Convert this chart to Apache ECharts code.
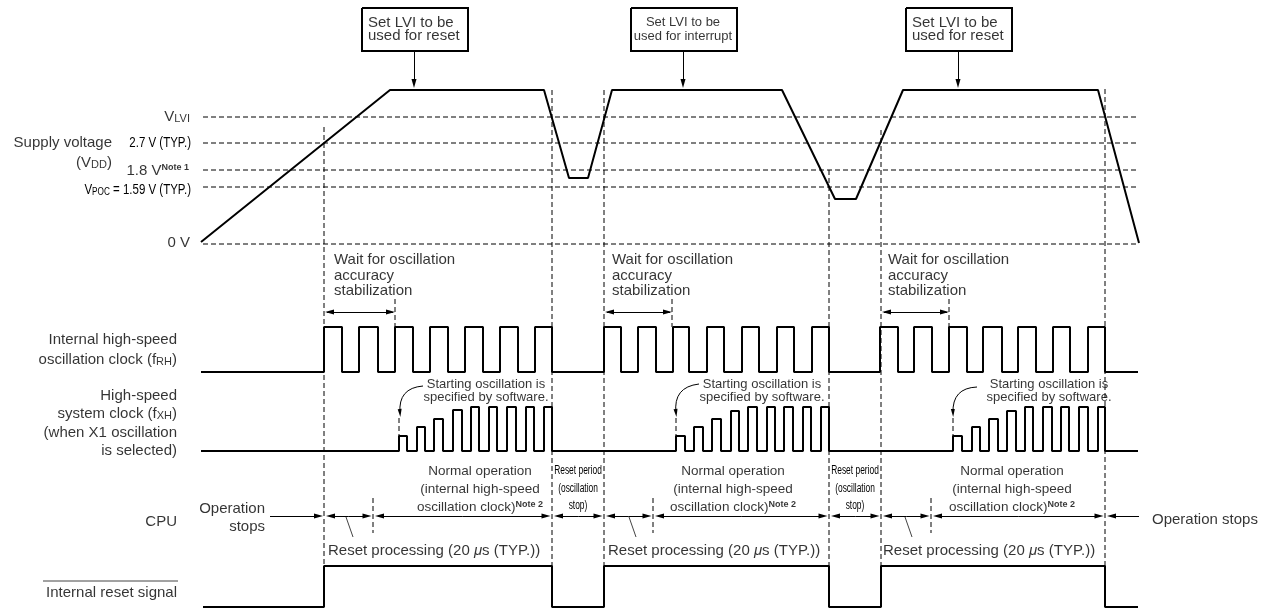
<!DOCTYPE html>
<html>
<head>
<meta charset="utf-8">
<title>LVI reset timing</title>
<script src="https://cdn.jsdelivr.net/npm/echarts@6/dist/echarts.min.js"></script>
<style>
html, body { margin: 0; padding: 0; background: #fff; }
#chart { width: 1272px; height: 610px; }
</style>
</head>
<body>
<div id="chart"></div>
<script>
// supply voltage trace: time (x) and level (y, plotted downwards)
const vddTime = [201, 390, 544, 569, 588, 612, 782, 835, 856, 903, 1098, 1139];
const vddLevel = [242, 90, 90, 178, 178, 90, 90, 199, 199, 90, 90, 243];
// dashed reference levels: VLVI, 2.7 V, 1.8 V, VPOC, 0 V
const refLevels = [117, 143, 170, 187, 244];

// internal high-speed oscillation clock (fRH) edges
const fRhRise = [324, 359, 395, 430, 465, 500, 535, 604, 638, 673, 707, 742, 777, 812, 880, 914, 949, 983, 1018, 1053, 1088];
const fRhFall = [342, 378, 413, 448, 483, 518, 552, 621, 656, 689, 724, 759, 794, 829, 898, 932, 967, 1002, 1036, 1070, 1105];

// high-speed system clock (fXH) edges and pulse tops
const fXhRise = [399, 417, 434, 453, 471, 489, 507, 526, 544, 676, 694, 712, 731, 748, 767, 784, 803, 821, 953, 972, 989, 1007, 1025, 1043, 1061, 1079, 1098];
const fXhFall = [407, 425, 443, 462, 479, 497, 516, 534, 552, 685, 703, 721, 739, 757, 775, 793, 811, 829, 962, 980, 998, 1016, 1033, 1052, 1069, 1088, 1105];
const fXhTop = [436, 427, 419, 410, 407, 407, 407, 407, 407, 436, 427, 419, 411, 407, 407, 407, 407, 407, 436, 427, 419, 411, 407, 407, 407, 407, 407];

// internal reset signal edges
const resetRise = [324, 604, 881];
const resetFall = [552, 829, 1105];

// event markers
const eventTimes = [324, 552, 604, 829, 881, 1105];
const eventTops = [127, 90, 90, 170, 130, 89];
const waitEnd = [395, 672, 949];
const xStart = [399, 676, 953];
const cpuMarks = [324, 373, 552, 604, 653, 829, 881, 931, 1105];
const procMarks = [373, 653, 931];
const boxCenter = [415, 684, 959];
const boxArrow = [414, 683, 958];

// texts
const boxText = [['Set LVI to be', 'used for reset'], ['Set LVI to be', 'used for interrupt'], ['Set LVI to be', 'used for reset']];
const waitText = ['Wait for oscillation', 'accuracy', 'stabilization'];
const startText = ['Starting oscillation is', 'specified by software.'];
const normalText = ['Normal operation', '(internal high-speed', 'oscillation clock){n|Note 2}'];
const resetPeriodText = ['Reset period', '(oscillation', 'stop)'];
const resetProcText = 'Reset processing (20 {i|\u03bc}s (TYP.))';

const SANS = 'Liberation Sans, Arial, sans-serif';

function stepPath(start, end, low, rise, fall, tops) {
  const pts = [[start, low]];
  rise.forEach((r, i) => {
    const hi = Array.isArray(tops) ? tops[i] : tops;
    pts.push([r, low], [r, hi], [fall[i], hi], [fall[i], low]);
  });
  pts.push([end, low]);
  return pts;
}

// arrow line whose tip lands on (x2, y2); the symbol is centred on the end point
function arrow(x1, y1, x2, y2) {
  const len = Math.hypot(x2 - x1, y2 - y1);
  const k = 4.5 / len;
  return { coords: [[x1, y1], [x2 - (x2 - x1) * k, y2 - (y2 - y1) * k]] };
}

const chart = echarts.init(document.getElementById('chart'));

const dashed = [];
refLevels.forEach(y => dashed.push({ coords: [[203, y], [1139, y]] }));
eventTimes.forEach((x, i) => dashed.push({ coords: [[x, eventTops[i]], [x, 566]] }));
waitEnd.forEach(x => dashed.push({ coords: [[x, 299], [x, 327]] }));
xStart.forEach(x => dashed.push({ coords: [[x, 418], [x, 436]] }));
procMarks.forEach(x => dashed.push({ coords: [[x, 498], [x, 533]] }));

const thin = [];
boxCenter.forEach(c => thin.push({ coords: [[c - 53, 8], [c + 53, 8], [c + 53, 51], [c - 53, 51], [c - 53, 8]] }));
thin.push({ coords: [[43, 581], [178, 581]] });

const leaders = [];
[346, 629, 905].forEach(x => leaders.push({ coords: [[x, 517], [x + 7, 537]] }));

const arrows = [];
boxArrow.forEach(x => arrows.push(arrow(x, 51, x, 88)));
eventTimes.filter((x, i) => i % 2 === 0).forEach((x, i) => {
  arrows.push(arrow(waitEnd[i] - 2, 312, x + 1, 312));
  arrows.push(arrow(x + 3, 312, waitEnd[i], 312));
});
// CPU time line
arrows.push(arrow(270, 516, cpuMarks[0] - 1, 516));
for (let i = 0; i < cpuMarks.length - 1; i++) {
  const a = cpuMarks[i] + 2, b = cpuMarks[i + 1] - 1.5;
  const m = (a + b) / 2;
  arrows.push(arrow(m, 516, a, 516));
  arrows.push(arrow(m, 516, b, 516));
}
arrows.push(arrow(1139, 516, cpuMarks[cpuMarks.length - 1] + 2, 516));

const curves = [[[423, 386], [400, 413]], [[699, 384], [676, 413]], [[977, 387], [953, 413]]].map(c => ({ coords: c }));

function txt(x, y, text, align, size, extra) {
  return {
    value: [x, y],
    label: Object.assign({ formatter: text, align: align, fontSize: size, lineHeight: size, fontFamily: SANS }, extra || {})
  };
}

const texts = [];
// top boxes
texts.push(txt(368, 23, boxText[0][0], 'left', 15));
texts.push(txt(368, 36, boxText[0][1], 'left', 15));
texts.push(txt(683, 22, boxText[1][0], 'center', 13));
texts.push(txt(683, 36, boxText[1][1], 'center', 13));
texts.push(txt(912, 23, boxText[2][0], 'left', 15));
texts.push(txt(912, 36, boxText[2][1], 'left', 15));
// supply voltage labels
texts.push(txt(190, 117, 'V{s|LVI}', 'right', 15));
texts.push(txt(112, 143, 'Supply voltage', 'right', 15));
texts.push(txt(112, 163, '(V{s|DD})', 'right', 15));
texts.push(txt(189, 171, '1.8 V{n|Note 1}', 'right', 15));
texts.push(txt(190, 243, '0 V', 'right', 15));
// wait for stabilization
[334, 612, 888].forEach(x => {
  texts.push(txt(x, 260, waitText[0], 'left', 15));
  texts.push(txt(x, 276, waitText[1], 'left', 15));
  texts.push(txt(x, 291, waitText[2], 'left', 15));
});
// clock labels
texts.push(txt(177, 340, 'Internal high-speed', 'right', 15));
texts.push(txt(177, 360, 'oscillation clock (f{s|RH})', 'right', 15));
texts.push(txt(177, 396, 'High-speed', 'right', 15));
texts.push(txt(177, 414, 'system clock (f{s|XH})', 'right', 15));
texts.push(txt(177, 433, '(when X1 oscillation', 'right', 15));
texts.push(txt(177, 451, 'is selected)', 'right', 15));
[486, 762, 1049].forEach(x => {
  texts.push(txt(x, 384, startText[0], 'center', 13));
  texts.push(txt(x, 397, startText[1], 'center', 13));
});
// CPU
texts.push(txt(177, 522, 'CPU', 'right', 15));
texts.push(txt(265, 509, 'Operation', 'right', 15));
texts.push(txt(265, 527, 'stops', 'right', 15));
texts.push(txt(1152, 520, 'Operation stops', 'left', 15));
[480, 733, 1012].forEach(x => {
  texts.push(txt(x, 471, normalText[0], 'center', 13.5));
  texts.push(txt(x, 489, normalText[1], 'center', 13.5));
  texts.push(txt(x, 507, normalText[2], 'center', 13.5));
});
[328, 608, 883].forEach(x => texts.push(txt(x, 551, resetProcText, 'left', 15)));
texts.push(txt(177, 593, 'Internal reset signal', 'right', 15));

// condensed texts, squeezed horizontally
const narrow = [
  { x: 191, y: 143, text: '2.7 V (TYP.)', align: 'right', size: 14, sx: 0.82 },
  { x: 191, y: 190, text: 'V{s|POC} = 1.59 V (TYP.)', align: 'right', size: 14, sx: 0.82 }
];
[578, 855].forEach(x => {
  narrow.push({ x: x, y: 471, text: resetPeriodText[0], align: 'center', size: 12, sx: 0.7 });
  narrow.push({ x: x, y: 489, text: resetPeriodText[1], align: 'center', size: 12, sx: 0.7 });
  narrow.push({ x: x, y: 506, text: resetPeriodText[2], align: 'center', size: 12, sx: 0.7 });
});

const signalStyle = { color: '#000', width: 2 };
function signal(name, data) {
  return {
    name: name, type: 'line', data: data, showSymbol: false, symbol: 'none',
    lineStyle: signalStyle, itemStyle: { color: '#000' }, silent: true, z: 3
  };
}

chart.setOption({
  animation: false,
  backgroundColor: '#fff',
  grid: { left: 0, right: 0, top: 0, bottom: 0 },
  xAxis: { type: 'value', min: 0, max: 1272, show: false },
  yAxis: { type: 'value', min: 0, max: 610, inverse: true, show: false },
  series: [
    signal('VDD', vddTime.map((t, i) => [t, vddLevel[i]])),
    signal('fRH', stepPath(201, 1138, 372, fRhRise, fRhFall, 327)),
    signal('fXH', stepPath(201, 1138, 451, fXhRise, fXhFall, fXhTop)),
    signal('reset', stepPath(203, 1138, 607, resetRise, resetFall, 566)),
    {
      type: 'lines', coordinateSystem: 'cartesian2d', polyline: true, silent: true, z: 1,
      lineStyle: { color: '#000', width: 1, type: [5, 3], opacity: 1 },
      data: dashed
    },
    {
      type: 'lines', coordinateSystem: 'cartesian2d', polyline: true, silent: true, z: 2,
      lineStyle: { color: '#000', width: 2, opacity: 1 },
      data: thin.slice(0, 3)
    },
    {
      type: 'lines', coordinateSystem: 'cartesian2d', polyline: true, silent: true, z: 2,
      lineStyle: { color: '#444', width: 1, opacity: 1 },
      data: thin.slice(3).concat(leaders)
    },
    {
      type: 'lines', coordinateSystem: 'cartesian2d', silent: true, z: 2,
      symbol: ['none', 'triangle'], symbolSize: [[5, 9], [5, 9]],
      lineStyle: { color: '#000', width: 1, opacity: 1 },
      itemStyle: { color: '#000' },
      data: arrows
    },
    {
      type: 'lines', coordinateSystem: 'cartesian2d', silent: true, z: 2,
      symbol: ['none', 'triangle'], symbolSize: [[4, 8], [4, 8]],
      lineStyle: { color: '#000', width: 1, opacity: 1, curveness: -0.5 },
      data: curves
    },
    {
      type: 'scatter', symbolSize: 0, silent: true, z: 5,
      label: {
        show: true, position: 'inside', verticalAlign: 'middle', color: '#000',
        rich: {
          s: { fontSize: 11, lineHeight: 11, verticalAlign: 'bottom', fontFamily: SANS, color: '#000' },
          n: { fontSize: 9, lineHeight: 9, fontWeight: 'bold', verticalAlign: 'top', fontFamily: SANS, color: '#000' },
          i: { fontSize: 15, lineHeight: 15, fontStyle: 'italic', fontFamily: SANS, color: '#000' }
        }
      },
      data: texts
    },
    {
      type: 'custom', coordinateSystem: 'cartesian2d', silent: true, z: 5,
      data: narrow.map(d => [d.x, d.y]),
      renderItem: function (params, api) {
        const d = narrow[params.dataIndex];
        const p = api.coord([api.value(0), api.value(1)]);
        return {
          type: 'text', x: p[0], y: p[1], scaleX: d.sx,
          style: {
            text: d.text, fill: '#000', fontSize: d.size, fontFamily: SANS, lineHeight: d.size,
            align: d.align, verticalAlign: 'middle',
            rich: { s: { fontSize: 10, lineHeight: 10, verticalAlign: 'bottom', fontFamily: SANS, fill: '#000' } }
          }
        };
      }
    }
  ]
});
</script>
</body>
</html>
